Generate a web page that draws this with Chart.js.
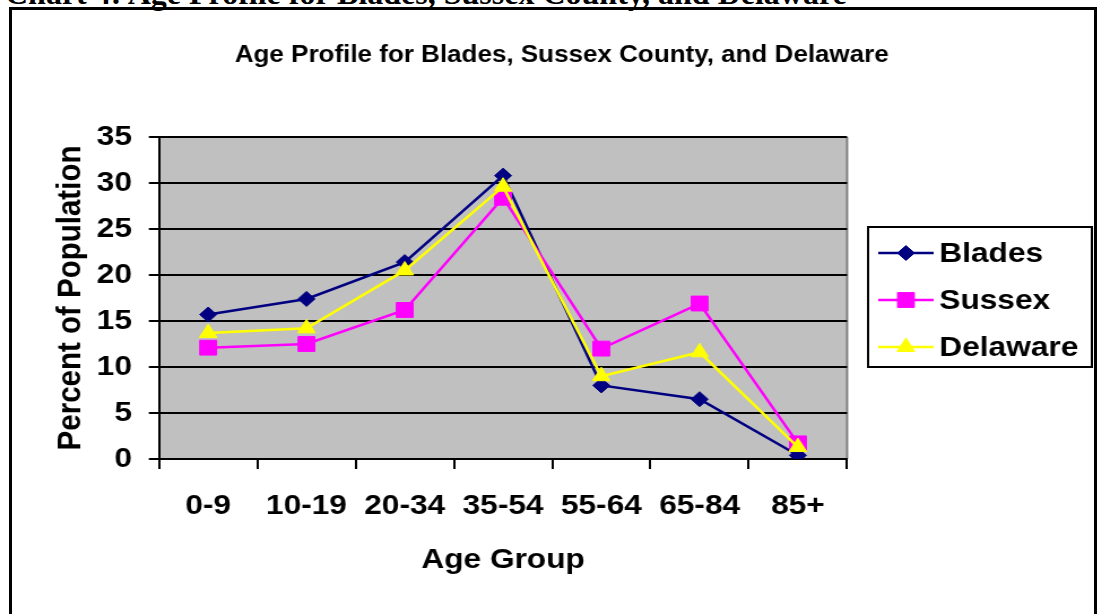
<!DOCTYPE html>
<html>
<head>
<meta charset="utf-8">
<script src="https://cdn.jsdelivr.net/npm/chart.js@4/dist/chart.umd.min.js"></script>
<style>
  html, body { margin: 0; padding: 0; background: #fff; overflow: hidden; }
  #caption {
    position: absolute; left: 5px; top: -23px; white-space: nowrap;
    font: bold 32px/32px "Liberation Serif", "Times New Roman", serif; color: #000;
  }
  #frame {
    position: absolute; left: 9px; top: 7px; width: 1088px; height: 700px;
    box-sizing: border-box; border: 3px solid #000;
  }
  /* 원본 그림은 가로로 약간 늘어나 있음 */
  #wrap { position: absolute; left: 0; top: 0; transform-origin: 0 0; transform: scaleX(1.1303); }
</style>
</head>
<body>
<div id="caption">Chart 4: Age Profile for Blades, Sussex County, and Delaware</div>
<div id="frame"></div>
<div id="wrap"><canvas id="chart" width="975" height="614"></canvas></div>
<script>
// 데이터
const ageGroups = ['0-9', '10-19', '20-34', '35-54', '55-64', '65-84', '85+'];
const blades = [15.7, 17.4, 21.4, 30.8, 8.0, 6.5, 0.4];
const sussex = [12.1, 12.5, 16.2, 28.4, 12.0, 16.9, 1.7];
const delaware = [13.7, 14.2, 20.5, 29.6, 9.0, 11.6, 1.3];
const yMin = 0, yMax = 35, yStep = 5;

const chartTitle = 'Age Profile for Blades, Sussex County, and Delaware';
const FONT = 'Arial, "Liberation Sans", sans-serif';

// 배경, 제목, 범례 그리기
const decorPlugin = {
    id: 'decor',
    beforeDraw(chart) {
        const { ctx, chartArea: a } = chart;
        ctx.save();
        ctx.fillStyle = '#C0C0C0';
        ctx.fillRect(a.left, a.top, a.right - a.left, a.bottom - a.top);
        ctx.strokeStyle = '#808080';
        ctx.lineWidth = 2;
        ctx.beginPath();
        ctx.moveTo(a.right, a.top);
        ctx.lineTo(a.right, a.bottom);
        ctx.stroke();
        ctx.restore();
    },
    afterDraw(chart) {
        const ctx = chart.ctx;
        ctx.save();
        ctx.fillStyle = '#000';
        ctx.textAlign = 'center';
        ctx.textBaseline = 'middle';
        ctx.font = 'bold 23px ' + FONT;
        ctx.fillText(chartTitle, 497, 56);

        // 범례
        const bx = 768, by = 227, bw = 198, bh = 140;
        ctx.fillStyle = '#fff';
        ctx.fillRect(bx, by, bw, bh);
        ctx.strokeStyle = '#000';
        ctx.lineWidth = 2;
        ctx.strokeRect(bx, by, bw, bh);
        ctx.font = 'bold 28px ' + FONT;
        ctx.textAlign = 'left';
        chart.data.datasets.forEach((ds, i) => {
            const y = 253 + i * 47;
            ctx.strokeStyle = ds.borderColor;
            ctx.lineWidth = 2.5;
            ctx.beginPath();
            ctx.moveTo(777, y);
            ctx.lineTo(826, y);
            ctx.stroke();
            ctx.fillStyle = ds.pointBackgroundColor;
            ctx.lineWidth = 1;
            Chart.helpers.drawPoint(ctx, {
                pointStyle: ds.pointStyle, radius: ds.pointRadius, borderWidth: 1, rotation: 0
            }, 801.5, y);
            ctx.fillStyle = '#000';
            ctx.fillText(ds.label, 831, y + 1);
        });
        ctx.restore();
    }
};

new Chart(document.getElementById('chart').getContext('2d'), {
    type: 'line',
    data: {
        labels: ageGroups,
        datasets: [
            { label: 'Blades', data: blades, borderColor: '#000080', pointBackgroundColor: '#000080',
              pointBorderColor: '#000080', pointStyle: 'rectRot', pointRadius: 7.5, order: 3 },
            { label: 'Sussex', data: sussex, borderColor: '#FF00FF', pointBackgroundColor: '#FF00FF',
              pointBorderColor: '#FF00FF', pointStyle: 'rect', pointRadius: 10.5, order: 2 },
            { label: 'Delaware', data: delaware, borderColor: '#FFFF00', pointBackgroundColor: '#FFFF00',
              pointBorderColor: '#FFFF00', pointStyle: 'triangle', pointRadius: 9, order: 1 }
        ].map(ds => Object.assign({ borderWidth: 2.5, pointBorderWidth: 1, tension: 0, fill: false }, ds))
    },
    options: {
        responsive: false,
        animation: false,
        devicePixelRatio: 1,
        layout: { padding: { top: 137, right: 225.6, bottom: 0, left: 0 } },
        plugins: {
            legend: { display: false },
            title: { display: false },
            tooltip: { enabled: false }
        },
        scales: {
            x: {
                offset: true,
                afterFit: s => { s.height = 155; },
                grid: { offset: true, drawOnChartArea: false, drawTicks: true, tickLength: 10, color: '#000', lineWidth: 2 },
                border: { color: '#000', width: 2 },
                ticks: { color: '#000', padding: 20, maxRotation: 0, font: { family: FONT, size: 28, weight: 'bold' } },
                title: { display: true, text: 'Age Group', color: '#000', padding: { top: 0, bottom: 37 },
                         font: { family: FONT, size: 28, weight: 'bold' } }
            },
            y: {
                min: yMin, max: yMax,
                afterFit: s => { s.width = 140.7; },
                grid: { color: '#000', lineWidth: 2, tickLength: 9 },
                border: { color: '#000', width: 2 },
                ticks: { stepSize: yStep, color: '#000', padding: 15, font: { family: FONT, size: 28, weight: 'bold' } },
                title: { display: true, text: 'Percent of Population', color: '#000', padding: { top: 45, bottom: 0 },
                         font: { family: FONT, size: 29.5, weight: 'bold' } }
            }
        }
    },
    plugins: [decorPlugin]
});
</script>
</body>
</html>
